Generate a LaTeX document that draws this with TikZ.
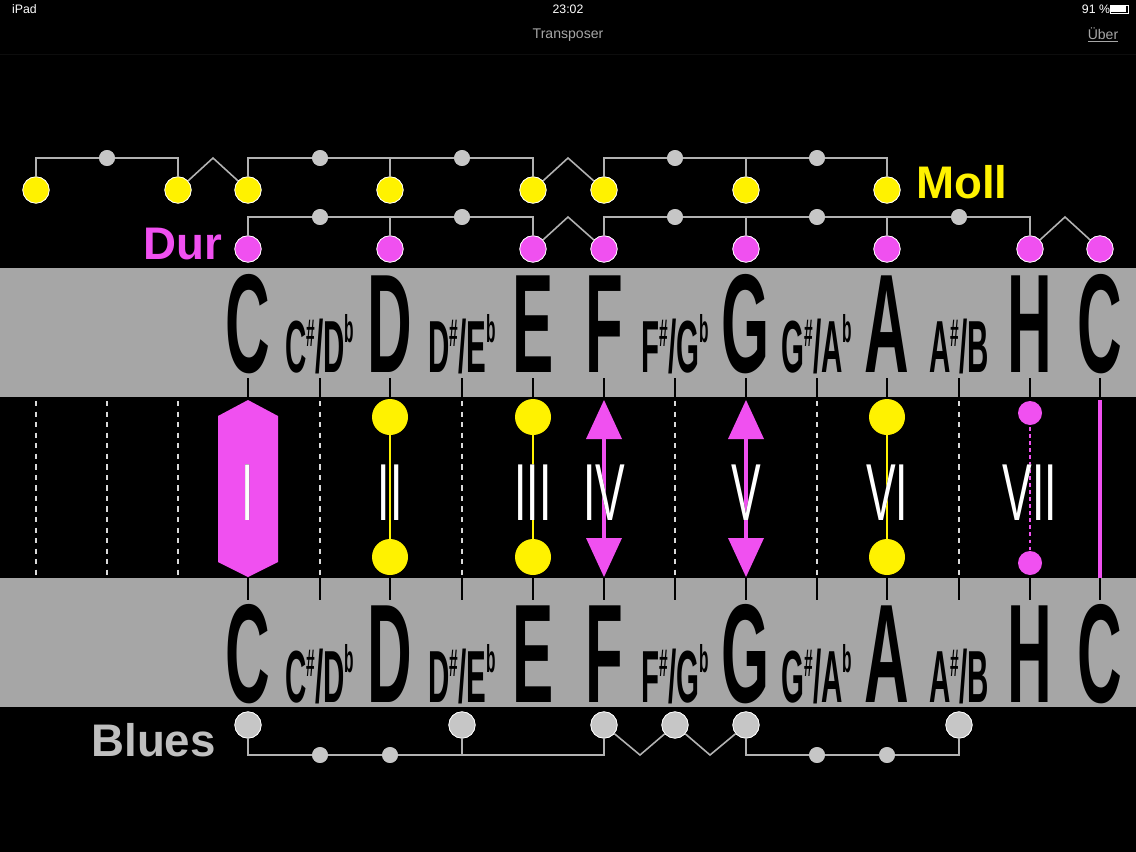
\documentclass[tikz,border=0pt]{standalone}
\usepackage{fontspec}
\usepackage[outline]{contour}
\contourlength{0.6pt}
\setmainfont{Liberation Sans}
\begin{document}
\begin{tikzpicture}[x=0.02cm,y=-0.02cm,
  ydot/.style={circle,fill=yellow,draw=white,line width=0.4pt,minimum size=15pt,inner sep=0},
  mdot/.style={circle,fill=mag,draw=white,line width=0.4pt,minimum size=15pt,inner sep=0},
  gdot/.style={circle,fill=gray!45,minimum size=9pt,inner sep=0},
  bdot/.style={circle,fill=gray!45,draw=white,line width=0.4pt,minimum size=15pt,inner sep=0},
  link/.style={draw=gray!60,line width=0.9pt},
  big/.style={anchor=base,font=\fontsize{80}{80}\selectfont\bfseries,xscale=0.44,inner sep=0},
  small/.style={anchor=base,font=\fontsize{42}{42}\selectfont\bfseries,xscale=0.4,inner sep=0},
  roman/.style={anchor=base,text=white,font=\fontsize{46}{46}\selectfont,xscale=0.55,inner sep=0},
  wdots/.style={draw=white!85!black,line width=1.6pt,dash pattern=on 3pt off 3pt},
  tick/.style={draw=black,line width=1.2pt}]
\definecolor{mag}{RGB}{240,80,240}
\fill[black] (0,0) rectangle (1136,852);
\useasboundingbox (0,0) rectangle (1136,852);
% status bar
\node[text=white,font=\fontsize{7}{7}\selectfont,anchor=west] (ipad) at (6,9) {iPad};
\node[text=white,font=\fontsize{7}{7}\selectfont] (time) at (568,9) {23:02};
\node[text=white,font=\fontsize{7}{7}\selectfont] (batt) at (1096,9) {91 \%};
\draw[white,line width=0.5pt] (1110,5) rectangle (1128,13);
\fill[white] (1111,6) rectangle (1126,12);
\node[text=gray!70,font=\fontsize{8}{8}\selectfont] (title) at (568,35) {Transposer};
\node[text=gray!70,font=\fontsize{8}{8}\selectfont] (uber) at (1103,35) {\underline{Über}};
\draw[gray!10!black,line width=0.4pt] (0,54) -- (1136,54);
% bands
\fill[gray!70] (0,268) rectangle (1136,397);
\fill[gray!70] (0,578) rectangle (1136,707);
% note names
\foreach \y in {372,702}{
 \foreach \x/\n in {248/C,390/D,533/E,604/F,746/G,887/A,1030/H,1100/C}
   \node[big] at (\x,\y) {\n};
 \foreach \x/\a/\b in {320/C/D,462/D/E,675/F/G,817/G/A}
   \node[small] at (\x,\y) {\a\raisebox{0.35em}{\fontsize{22}{22}\selectfont\#}/\b\raisebox{0.4em}{\fontsize{22}{22}\selectfont b}};
 \node[small] at (959,\y) {A\raisebox{0.35em}{\fontsize{22}{22}\selectfont\#}/B};
}
% ticks
\foreach \x in {248,320,390,462,533,604,675,746,817,887,959,1030,1100}{
  \draw[tick] (\x,378) -- (\x,397);
  \draw[tick] (\x,578) -- (\x,600);
}
% dotted lines
\foreach \x in {36,107,178,320,462,675,817,959}
  \draw[wdots] (\x,401) -- (\x,575);
% I hexagon
\fill[mag] (248,400) -- (278,416) -- (278,562) -- (248,577) -- (218,562) -- (218,416) -- cycle;
% yellow pairs
\foreach \x in {390,533,887}{
  \draw[yellow,line width=1.5pt] (\x,417) -- (\x,557);
  \fill[yellow] (\x,417) circle (18);
  \fill[yellow] (\x,557) circle (18);
}
% arrows
\foreach \x in {604,746}{
  \draw[mag,line width=2pt] (\x,410) -- (\x,566);
  \fill[mag] (\x,400) -- (\x+18,439) -- (\x-18,439) -- cycle;
  \fill[mag] (\x,577) -- (\x+18,538) -- (\x-18,538) -- cycle;
}
% VII
\draw[mag,line width=1.5pt,dash pattern=on 2pt off 2pt] (1030,413) -- (1030,563);
\fill[mag] (1030,413) circle (12);
\fill[mag] (1030,563) circle (12);
\draw[mag,line width=2.5pt] (1100,400) -- (1100,578);
% roman numerals
\foreach \x/\r in {248/I,390/II,533/III,604/IV,746/V,887/VI,1030/VII}
  \node[roman] (r\r) at (\x,520) {\contour{black}{\r}};
% Moll row
\foreach \x [count=\i] in {36,178,248,390,533,604,746,887} \node[ydot] (m\i) at (\x,190) {};
\foreach \x [count=\i] in {107,320,462,675,817} \node[gdot] (mg\i) at (\x,158) {};
\coordinate (mz1) at (213,158); \coordinate (mz2) at (568,158);
\draw[link] (m1) |- (mg1) -| (m2);
\draw[link] (m2) -- (mz1) -- (m3);
\draw[link] (m3) |- (mg2) -| (m4);
\draw[link] (m4) |- (mg3) -| (m5);
\draw[link] (m5) -- (mz2) -- (m6);
\draw[link] (m6) |- (mg4) -| (m7);
\draw[link] (m7) |- (mg5) -| (m8);
\foreach \i in {1,...,8} \node[ydot] at (m\i) {};
\foreach \i in {1,...,5} \node[gdot] at (mg\i) {};
\node[text=yellow,font=\fontsize{26}{26}\selectfont\bfseries,anchor=west] (moll) at (910,182) {Moll};
% Dur row
\foreach \x [count=\i] in {248,390,533,604,746,887,1030,1100} \node[mdot] (d\i) at (\x,249) {};
\foreach \x [count=\i] in {320,462,675,817,959} \node[gdot] (dg\i) at (\x,217) {};
\coordinate (dz1) at (568,217); \coordinate (dz2) at (1065,217);
\draw[link] (d1) |- (dg1) -| (d2);
\draw[link] (d2) |- (dg2) -| (d3);
\draw[link] (d3) -- (dz1) -- (d4);
\draw[link] (d4) |- (dg3) -| (d5);
\draw[link] (d5) |- (dg4) -| (d6);
\draw[link] (d6) |- (dg5) -| (d7);
\draw[link] (d7) -- (dz2) -- (d8);
\foreach \i in {1,...,8} \node[mdot] at (d\i) {};
\foreach \i in {1,...,5} \node[gdot] at (dg\i) {};
\node[text=mag,font=\fontsize{26}{26}\selectfont\bfseries,anchor=east] (dur) at (228,244) {Dur};
% Blues row
\foreach \x [count=\i] in {248,462,604,675,746,959} \node[bdot] (b\i) at (\x,725) {};
\foreach \x [count=\i] in {320,390,817,887} \node[gdot] (bg\i) at (\x,755) {};
\coordinate (bz1) at (640,755); \coordinate (bz2) at (710,755);
\coordinate (bm) at (533,755);
\draw[link] (b1) |- (bg1) -- (bg2) -| (b2);
\draw[link] (b2) |- (bm) -| (b3);
\draw[link] (b3) -- (bz1) -- (b4) -- (bz2) -- (b5);
\draw[link] (b5) |- (bg3) -- (bg4) -| (b6);
\foreach \i in {1,...,6} \node[bdot] at (b\i) {};
\foreach \i in {1,...,4} \node[gdot] at (bg\i) {};
\node[text=gray!50,font=\fontsize{26}{26}\selectfont\bfseries,anchor=east] (blues) at (222,740) {Blues};
\end{tikzpicture}
\end{document}
